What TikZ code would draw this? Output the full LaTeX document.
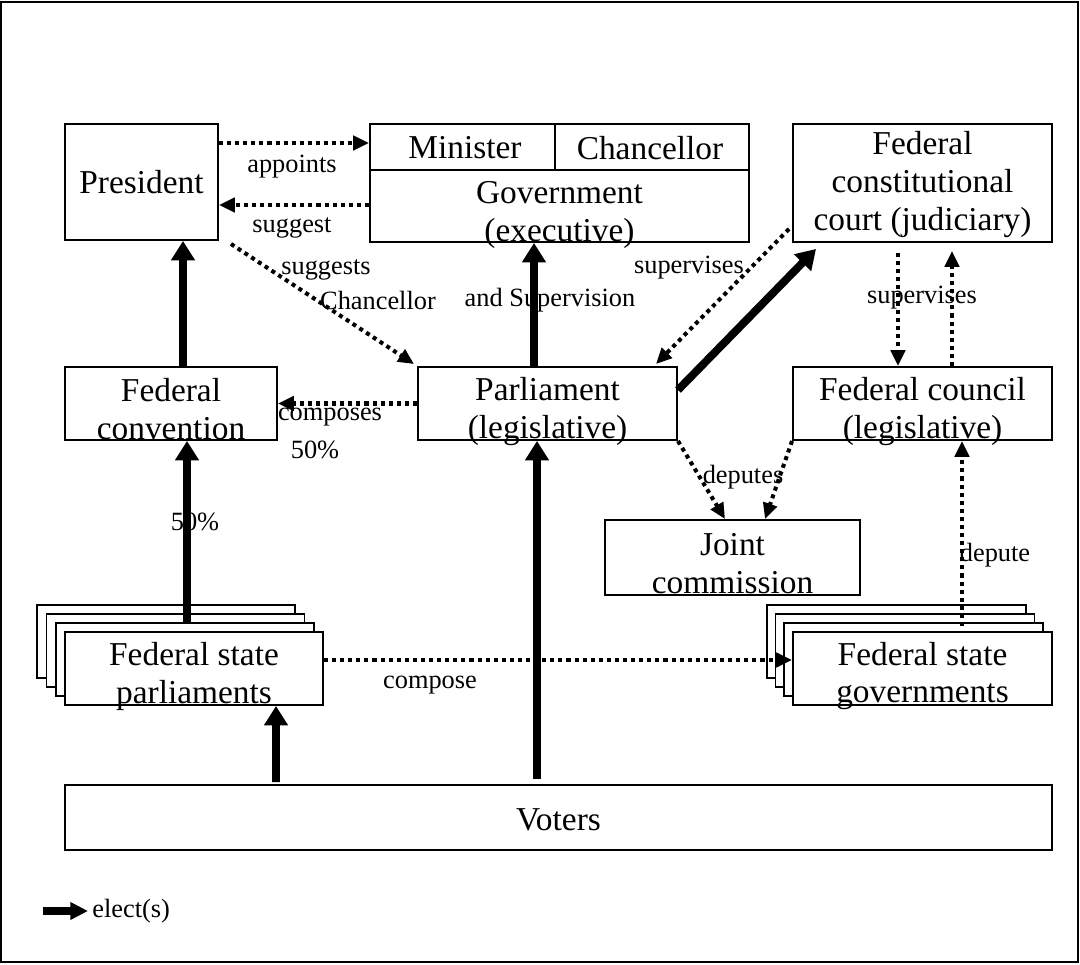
\documentclass[tikz,border=0pt]{standalone}
\usepackage{fontspec}
\setmainfont{Liberation Serif}
\usetikzlibrary{arrows.meta,calc,positioning}

\begin{document}
\begin{tikzpicture}[
  box/.style={draw, line width=1.1pt, fill=white, align=center, inner sep=0pt,
    font=\fontsize{19}{21.6}\selectfont},
  txt/.style={align=center, inner sep=0pt, font=\fontsize{19}{21.6}\selectfont},
  lbl/.style={inner sep=0pt, font=\fontsize{15}{17}\selectfont},
  elect/.style={line width=4.5pt, -{Triangle[length=11pt,width=13pt]}},
  legendarrow/.style={line width=4.5pt, -{Triangle[length=10pt,width=9.5pt]}},
  dotarrow/.style={line width=2.3pt, dash pattern=on 2.3pt off 2.3pt,
    -{Triangle[length=9pt,width=8pt]}}
]
\useasboundingbox (0,0) rectangle (21.6,19.28);
\draw[line width=0.6pt] (0.02,0.04) rectangle (21.56,19.24);

% top row
\node[box, minimum width=3.06cm, minimum height=2.32cm] (pres) at (2.83,15.64) {President};
\node[box, minimum width=7.58cm, minimum height=2.36cm] (gov) at (11.19,15.62) {};
\draw[line width=1.1pt] ([yshift=-0.94cm]gov.north west) -- ([yshift=-0.94cm]gov.north east);
\draw[line width=1.1pt] ([xshift=-0.09cm]gov.north) -- ([xshift=-0.09cm,yshift=-0.94cm]gov.north);
\node[txt] (minister) at (9.30,16.32) {Minister};
\node[txt] (chancellor-seat) at (13.0,16.32) {Chancellor};
\node[txt] (gov-text) at (11.19,14.98) {Government\\(executive)};
\node[box, minimum width=5.18cm, minimum height=2.36cm] (court) at (18.45,15.62) {};
\node[txt] (court-text) at ([yshift=-0.03cm]court.center) {Federal\\constitutional\\court (judiciary)};

% middle row
\node[box, minimum width=4.24cm, minimum height=1.46cm] (conv) at (3.42,11.21) {};
\node[txt] (conv-text) at ([yshift=-0.11cm]conv.center) {Federal\\convention};
\node[box, minimum width=5.18cm, minimum height=1.46cm] (parl) at (10.95,11.21) {};
\node[txt] (parl-text) at ([yshift=-0.17cm]parl.center) {Parliament\\(legislative)};
\node[box, minimum width=5.18cm, minimum height=1.46cm] (council) at (18.45,11.21) {};
\node[txt] (council-text) at ([yshift=-0.17cm]council.center) {Federal council\\(legislative)};
\node[box, minimum width=5.10cm, minimum height=1.50cm] (joint) at (14.65,8.13) {};
\node[txt] (joint-text) at ([yshift=-0.12cm]joint.center) {Joint\\commission};

% federal states
\foreach \k in {3,2,1}
  \node[box, minimum width=5.16cm, minimum height=1.46cm] (fsp-back-\k) at ({3.88-0.185*\k},{5.91+0.18*\k}) {};
\node[box, minimum width=5.16cm, minimum height=1.46cm] (fsp) at (3.88,5.91) {};
\node[txt] (fsp-text) at ([yshift=-0.15cm]fsp.center) {Federal state\\parliaments};
\foreach \k in {3,2,1}
  \node[box, minimum width=5.18cm, minimum height=1.46cm] (fsg-back-\k) at ({18.45-0.175*\k},{5.91+0.18*\k}) {};
\node[box, minimum width=5.18cm, minimum height=1.46cm] (fsg) at (18.45,5.91) {};
\node[txt] (fsg-text) at ([yshift=-0.15cm]fsg.center) {Federal state\\governments};

\node[box, minimum width=19.74cm, minimum height=1.30cm] (voters) at (11.17,2.93) {};
\node[txt] (voters-text) at ([yshift=-0.05cm]voters.center) {Voters};

% connectors
\draw[dotarrow] ([yshift=0.78cm]pres.east) -- ([yshift=0.80cm]gov.west);
\draw[dotarrow] ([yshift=-0.44cm]gov.west) -- ([yshift=-0.46cm]pres.east);
\node[lbl] (appoints) at (5.84,15.94) {appoints};
\node[lbl] (suggest) at (5.84,14.72) {suggest};

\draw[dotarrow] ($(pres.south east)+(0.24,-0.06)$) -- ($(parl.north west)+(-0.06,0.04)$);
\node[lbl] (suggests) at (6.52,13.88) {suggests};
\node[lbl] (chancellor) at (7.56,13.28) {Chancellor};

\draw[elect] ([xshift=-0.27cm]parl.north) -- ([xshift=-0.27cm]parl.north |- gov.south);
\node[lbl] (supervision) at (11.0,13.28) {and Supervision};

\draw[elect] ([yshift=0.27cm]parl.east) -- ($(court.south west)+(0.48,-0.12)$);
\draw[dotarrow] ($(court.south west)+(-0.06,0.28)$) -- ($(parl.north east)+(-0.44,0.04)$);
\node[lbl] (supervises-parl) at (13.78,13.92) {supervises};

\draw[dotarrow] ([xshift=-0.49cm,yshift=-0.2cm]court.south) -- ([xshift=-0.49cm]council.north);
\draw[dotarrow] ([xshift=0.59cm]council.north) -- ([xshift=0.59cm,yshift=-0.16cm]court.south);
\node[lbl] (supervises-council) at (18.44,13.32) {supervises};

\draw[elect] ([xshift=0.24cm]conv.north) -- ([xshift=0.24cm]conv.north |- pres.south);
\draw[dotarrow] (parl.west) -- (conv.east);
\node[lbl] (composes) at (6.60,10.94) {composes};
\node[lbl] (half-conv) at (6.30,10.28) {50\%};

\draw[elect] ([xshift=-0.14cm,yshift=0.14cm]fsp.north) -- ([xshift=-0.14cm]fsp.north |- conv.south);
\node[lbl] (half-fsp) at (3.90,8.84) {50\%};

\draw[elect] ($(parl.south |- voters.north)+(-0.21,0.1)$) -- ([xshift=-0.21cm]parl.south);
\draw[elect] ($(fsp.south |- voters.north)+(1.64,0.04)$) -- ([xshift=1.64cm]fsp.south);

\draw[dotarrow] ([yshift=0.17cm]fsp.east) -- ([yshift=0.17cm]fsg.west);
\node[lbl] (compose) at (8.60,5.58) {compose};

\draw[dotarrow] ([xshift=0.79cm,yshift=0.10cm]fsg.north) -- ([xshift=0.79cm]council.south);
\node[lbl] (depute) at (19.90,8.18) {depute};

\draw[dotarrow] (parl.south east) -- ([xshift=-0.15cm]joint.north);
\draw[dotarrow] (council.south west) -- ([xshift=0.65cm]joint.north);
\node[lbl] (deputes) at (14.86,9.74) {deputes};

% legend
\coordinate (legend-start) at (0.85,1.06);
\node[lbl, anchor=west] (legend) at (1.84,1.06) {elect(s)};
\draw[legendarrow] (legend-start) -- ([xshift=-0.08cm]legend.west);
\end{tikzpicture}
\end{document}
